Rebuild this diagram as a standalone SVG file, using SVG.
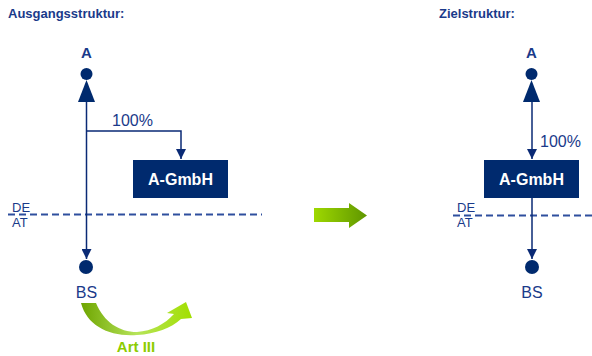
<svg xmlns="http://www.w3.org/2000/svg" width="592" height="356" viewBox="0 0 592 356">
<style>
.t{font-family:"Liberation Sans",Arial,sans-serif;fill:#1a3a8a}
.b{font-weight:bold}
.ln{stroke:#0a2a75;stroke-width:1.5;fill:none}
.dash{stroke:#2e4f9e;stroke-width:1.8;stroke-dasharray:7 4;fill:none}
.nv{fill:#002a6e}
</style>
<defs>
<marker id="ah" viewBox="0 0 10 10" refX="10" refY="5" markerWidth="10" markerHeight="10" markerUnits="userSpaceOnUse" orient="auto">
<path d="M0,0 L10,5 L0,10 Z" fill="#0a2a75"/>
</marker>
<linearGradient id="g1" x1="0" y1="0" x2="1" y2="0">
<stop offset="0" stop-color="#9ed800"/>
<stop offset="1" stop-color="#5f9600"/>
</linearGradient>
<linearGradient id="g2" x1="0" y1="0" x2="1" y2="0">
<stop offset="0" stop-color="#6ea500"/>
<stop offset="0.5" stop-color="#b6e45a"/>
<stop offset="1" stop-color="#a2df00"/>
</linearGradient>
</defs>

<text class="t b" x="8" y="18" font-size="13">Ausgangsstruktur:</text>
<text class="t b" x="439" y="18" font-size="13">Zielstruktur:</text>

<g id="left-A">
<text class="t b" x="86.5" y="58" font-size="15" text-anchor="middle">A</text>
<circle class="nv" cx="86.5" cy="74" r="6"/>
<path class="nv" d="M86.5,80 L78,102 L95,102 Z"/>
</g>
<g id="left-gmbh">
<rect class="nv" x="133" y="160" width="95" height="38"/>
<text x="180.5" y="185" font-size="16" font-weight="bold" fill="#ffffff" font-family="'Liberation Sans',Arial,sans-serif" text-anchor="middle">A-GmbH</text>
</g>
<g id="left-BS">
<circle class="nv" cx="86" cy="267" r="7"/>
<text class="t" x="86.5" y="298" font-size="16" text-anchor="middle">BS</text>
</g>
<g id="left-border">
<line class="dash" x1="8" y1="214.5" x2="262" y2="214.5"/>
<text class="t" x="12" y="212" font-size="13">DE</text>
<text class="t" x="12" y="227" font-size="13">AT</text>
</g>
<g id="left-artIII">
<path fill="url(#g2)" d="M81,303 C87,326 110,337 137,335 C156,334 171,328 181,319 L192,318 L186,302 L167,313 L174,314 C165,324 152,331 137,332 C119,332 104,322 96,303 Z"/>
<text x="136" y="352" font-size="15" font-weight="bold" fill="#8ccc00" font-family="'Liberation Sans',Arial,sans-serif" text-anchor="middle">Art III</text>
</g>

<g id="transition">
<path fill="url(#g1)" d="M314,208 L349,208 L349,203 L367,215.5 L349,228 L349,222 L314,222 Z"/>
</g>

<g id="right-A">
<text class="t b" x="531.5" y="58" font-size="15" text-anchor="middle">A</text>
<circle class="nv" cx="531.5" cy="74" r="6"/>
<path class="nv" d="M531.5,80 L523,102 L540,102 Z"/>
</g>
<g id="right-gmbh">
<rect class="nv" x="484" y="160" width="95" height="38"/>
<text x="531.5" y="185" font-size="16" font-weight="bold" fill="#ffffff" font-family="'Liberation Sans',Arial,sans-serif" text-anchor="middle">A-GmbH</text>
</g>
<g id="right-BS">
<circle class="nv" cx="532" cy="267" r="7"/>
<text class="t" x="532" y="298" font-size="16" text-anchor="middle">BS</text>
</g>
<g id="right-border">
<line class="dash" x1="453" y1="215.5" x2="592" y2="215.5"/>
<text class="t" x="457" y="212" font-size="13">DE</text>
<text class="t" x="457" y="227" font-size="13">AT</text>
</g>

<g id="connectors">
<line class="ln" x1="86.5" y1="102" x2="86.5" y2="259" marker-end="url(#ah)"/>
<path class="ln" d="M86.5,131 H181 V159" marker-end="url(#ah)"/>
<text class="t" x="112" y="126" font-size="16">100%</text>
<line class="ln" x1="532" y1="102" x2="532" y2="159" marker-end="url(#ah)"/>
<text class="t" x="540" y="147" font-size="16">100%</text>
<line class="ln" x1="532" y1="198" x2="532" y2="259" marker-end="url(#ah)"/>
</g>
</svg>
